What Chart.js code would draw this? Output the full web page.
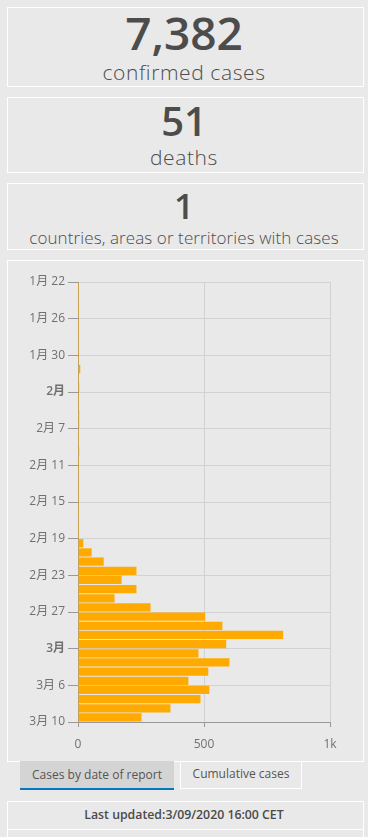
<!DOCTYPE html>
<html><head><meta charset="utf-8">
<script src="https://cdn.jsdelivr.net/npm/chart.js@4/dist/chart.umd.min.js"></script>
<style>
html,body{margin:0;padding:0;background:#e9e9e9;width:368px;height:837px;overflow:hidden;font-family:"Open Sans",Lato,sans-serif;color:#4c4c4c}
.p{position:absolute;left:7px;width:357px;box-sizing:border-box;border:1px solid #fff}
.t{position:absolute;left:0;width:368px;text-align:center;line-height:1;white-space:nowrap}
.big{font-weight:600}
.lab{font-weight:300}
</style></head><body>
<div class="p" style="top:7px;height:80px"></div>
<div class="p" style="top:97px;height:76px"></div>
<div class="p" style="top:183px;height:67px"></div>
<div class="p" style="top:260px;height:502px"></div>
<div class="t big" id="n1" style="top:9px;font-size:46px"></div>
<div class="t lab" id="l1" style="top:62px;font-size:21px;letter-spacing:0.6px"></div>
<div class="t big" id="n2" style="top:101px;font-size:40px"></div>
<div class="t lab" id="l2" style="top:147px;font-size:21px;letter-spacing:0.6px"></div>
<div class="t big" id="n3" style="top:188px;font-size:35px"></div>
<div class="t lab" id="l3" style="top:229px;font-size:17px;letter-spacing:0.1px"></div>
<div style="position:absolute;left:8px;top:261px;width:354px;height:499px"><canvas id="c" width="354" height="499"></canvas></div>
<div style="position:absolute;left:20px;top:761px;width:154px;height:27px;background:#d4d4d4;border-bottom:2px solid #0079c1;font-size:12px;line-height:27px;text-align:center;color:#555">Cases by date of report</div>
<div style="position:absolute;left:180px;top:761px;width:122px;height:28px;box-sizing:border-box;border:1px solid #fff;border-top:none;font-size:12px;line-height:26px;text-align:center;color:#555">Cumulative cases</div>
<div class="p" style="top:801px;height:60px"></div>
<div style="position:absolute;left:8px;top:829px;width:355px;height:1px;background:#fff"></div>
<div class="t" style="top:809px;font-size:12.3px;font-weight:600;color:#4a4a4a">Last updated:3/09/2020 16:00 CET</div>
<script>
const summaryValues = ["7,382", "51", "1"];
const summaryLabels = ["confirmed cases", "deaths", "countries, areas or territories with cases"];
// report dates Jan 22 .. Mar 9, 2020
const dates = [
 "2020-01-22","2020-01-23","2020-01-24","2020-01-25","2020-01-26","2020-01-27","2020-01-28","2020-01-29","2020-01-30","2020-01-31",
 "2020-02-01","2020-02-02","2020-02-03","2020-02-04","2020-02-05","2020-02-06","2020-02-07","2020-02-08","2020-02-09","2020-02-10",
 "2020-02-11","2020-02-12","2020-02-13","2020-02-14","2020-02-15","2020-02-16","2020-02-17","2020-02-18","2020-02-19","2020-02-20",
 "2020-02-21","2020-02-22","2020-02-23","2020-02-24","2020-02-25","2020-02-26","2020-02-27","2020-02-28","2020-02-29","2020-03-01",
 "2020-03-02","2020-03-03","2020-03-04","2020-03-05","2020-03-06","2020-03-07","2020-03-08","2020-03-09"];
const cases = [
 0,0,0,0,0,0,0,0,0,9,
 0,5,0,0,5,5,0,0,5,0,
 0,0,0,0,0,0,0,0,21,54,
 102,232,173,232,145,288,505,573,814,588,
 478,601,517,438,521,486,367,252];
const dateTickLabels = ["1月 22","1月 26","1月 30","2月","2月 7","2月 11","2月 15","2月 19","2月 23","2月 27","3月","3月 6","3月 10"];
const valueTickLabels = {0:"0",500:"500",1000:"1k"};

document.getElementById('n1').textContent = summaryValues[0];
document.getElementById('n2').textContent = summaryValues[1];
document.getElementById('n3').textContent = summaryValues[2];
document.getElementById('l1').textContent = summaryLabels[0];
document.getElementById('l2').textContent = summaryLabels[1];
document.getElementById('l3').textContent = summaryLabels[2];

const pts = cases.map((v,i)=>({x:v,y:i+0.5}));
new Chart(document.getElementById('c'), {
  type:'bar',
  data:{datasets:[{data:pts,backgroundColor:'#ffaa00',barPercentage:0.9,categoryPercentage:1,minBarLength:1}]},
  options:{
    indexAxis:'y',responsive:false,animation:false,
    layout:{padding:{top:21,right:32,left:0,bottom:0}},
    plugins:{legend:{display:false},tooltip:{enabled:false}},
    scales:{
      y:{type:'linear',min:0,max:dates.length,reverse:true,offset:false,
        afterFit:s=>{s.width=70;},
        ticks:{stepSize:4,autoSkip:false,padding:3,color:'#707070',
          font:(ctx)=>{const l=dateTickLabels[Math.round((ctx.tick?ctx.tick.value:0)/4)]||'';return {family:'"Open Sans","Noto Sans CJK SC"',size:12,weight:(l.length<=2?'600':'normal')};},
          callback:(v)=>dateTickLabels[Math.round(v/4)]},
        grid:{color:'#d2d2d2',tickLength:10,tickColor:'#999',offset:false},
        border:{color:'#999'}},
      x:{type:'linear',min:0,max:1000,
        afterFit:s=>{s.height=38;},
        ticks:{stepSize:500,padding:10,color:'#707070',font:{family:'"Open Sans"',size:12},callback:v=>valueTickLabels[v]},
        grid:{color:'#d2d2d2',tickLength:5,tickColor:'#999'},
        border:{color:'#999'}}
    }
  }
});
</script>
</body></html>
